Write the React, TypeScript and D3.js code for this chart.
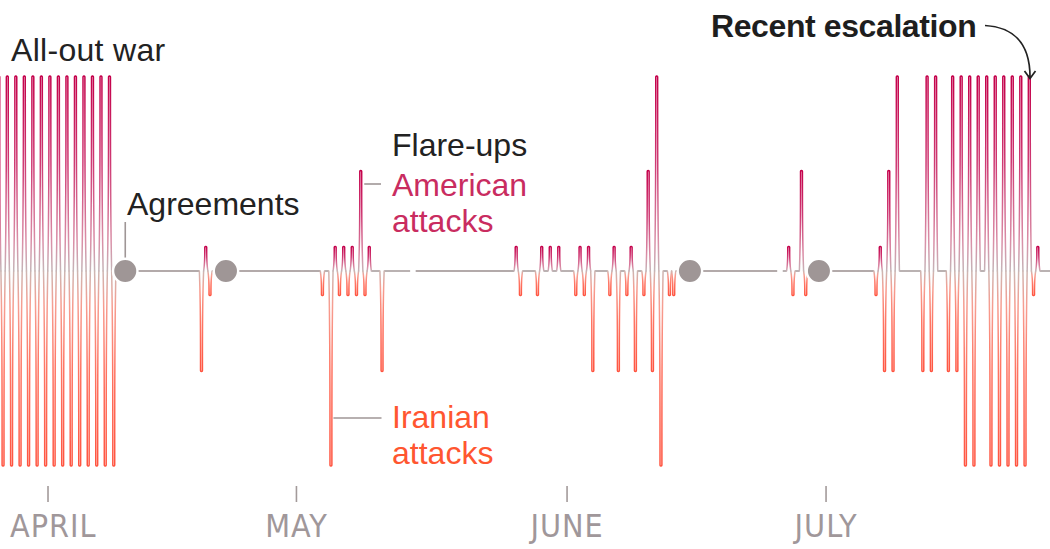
import React from 'react';
import * as d3 from 'd3';

// ---------- DATA (unit: half-day slots; one attack pulse per slot) ----------
// level: +n = American attacks (up), -n = Iranian attacks (down), 0 = quiet
const warStart = -3;
const warLevels = [-3, 3, -3, 3, -3, 3, -3, 3, -3, 3, -3, 3, -3, 3, -3, 3, -3, 3, -3, 3, -3, 3, -3, 3, -3, 3, -3, 3, -3];

const aprilFlareStart = 45.6;
const aprilFlareLevels = [-2, 1, -1];

const mayFlareStart = 74;
const mayFlareLevels = [-1, 0, -3, 1, -1, 1, -1, 1, -1, 2, -1, 1, 0, 0, -2];

const juneFlareStart = 119.5;
const juneFlareLevels = [1, -1, 0, 0, 0, -1, 1, 0, 1, 0, 1, 0, 0, 0, -1, 1, -1, 1, -2, 0, 0, 0, -1, 1, -2, 0, -1, 1, -2, 0, -1, 2, -2, 3, -3, 0, -1, -1];

const julyFlareStart = 183.5;
const julyFlareLevels = [1, -1, 0, 2, -1];

const escalationStart = 204;
const escalationLevels = [-1, 1, -2, 2, -2, 3, 0, 0, 0, 0, 0, -2, 3, -2, 3, 0, 0, -2, 3, -2, 3, -3, 3, -3, 3, 0, 3, -3, 3, -3, 3, -3, 3, -3, 3, -3, 3, -1, 1];

const agreementSlots = [27.7, 51.35, 160.3, 190.6];
const noDataGaps: [number, number][] = [[94.6, 95.9], [180.8, 182.1]];

const monthTicks = ['APRIL', 'MAY', 'JUNE', 'JULY'];
const monthTickSlots = [9.56, 67.9, 131.45, 192.27];

const levelDomain = [0, 1, 2, 3];

// ---------- LAYOUT ----------
const W = 1050;
const H = 549;
const BASE_Y = 271;
const FONT = "'Liberation Sans', Arial, Helvetica, sans-serif";
const NARROW = "'Liberation Sans Narrow', 'Arial Narrow', 'DejaVu Sans Condensed', sans-serif";
const GRAY_LINE = '#b3aaaa';
const DOT = '#9f9696';

type Pulse = { slot: number; level: number };

function expand(start: number, levels: number[]): Pulse[] {
  return levels.map((level, i) => ({ slot: start + i, level }));
}

export default function App() {
  const x = d3.scaleLinear().domain([0, 240]).range([7.3, 1029.3]);
  const amp = d3.scaleLinear().domain(levelDomain).range([0, 24.5, 100.5, 195]);

  const pulses: Pulse[] = [
    ...expand(warStart, warLevels),
    ...expand(aprilFlareStart, aprilFlareLevels),
    ...expand(mayFlareStart, mayFlareLevels),
    ...expand(juneFlareStart, juneFlareLevels),
    ...expand(julyFlareStart, julyFlareLevels),
    ...expand(escalationStart, escalationLevels),
  ].filter((p) => p.level !== 0);

  const line = d3.line<[number, number]>();
  const N = 48;
  const SIDE = 0.95; // half-gap between the two sides of a pulse loop near its tip
  const TAPER = 3.2; // how the loop narrows away from the baseline
  const pulsePath = (p: Pulse) => {
    const c = x(p.slot);
    const half = (x(p.slot + 0.5) - x(p.slot - 0.5)) / 2;
    const A = amp(Math.abs(p.level));
    const sgn = p.level > 0 ? -1 : 1;
    const r = Math.min(SIDE, A / 2);
    const hw = (d: number) => {
      let w = r + (half - r) * Math.pow(Math.max(0, 1 - d / A), TAPER);
      const capStart = A - r;
      if (d > capStart) {
        const k = (d - capStart) / r;
        w = Math.min(w, r * Math.sqrt(Math.max(0, 1 - k * k)));
      }
      return w;
    };
    const ds = d3.range(N + 1).map((i) => (A * (1 - Math.cos((Math.PI * i) / N))) / 2);
    const left: [number, number][] = ds.map((d) => [c - hw(d), BASE_Y + sgn * d]);
    const right: [number, number][] = ds
      .slice()
      .reverse()
      .map((d) => [c + hw(d), BASE_Y + sgn * d]);
    return line([...left, ...right.slice(1)]) as string;
  };

  // baseline = full extent minus pulse intervals minus no-data gaps
  const blocked: [number, number][] = [
    ...pulses.map((p) => [p.slot - 0.5, p.slot + 0.5] as [number, number]),
    ...noDataGaps,
  ].sort((a, b) => a[0] - b[0]);
  const fullStart = x.invert(-5);
  const fullEnd = x.invert(W + 5);
  const baseSegs: [number, number][] = [];
  let cursor = fullStart;
  for (const [b0, b1] of blocked) {
    if (b0 > cursor + 1e-6) baseSegs.push([cursor, b0]);
    cursor = Math.max(cursor, b1);
  }
  if (cursor < fullEnd) baseSegs.push([cursor, fullEnd]);

  const americanLeaderX = x(83) + 3.5;
  const iranianLeaderX = x(76) + 2.5;
  const firstDotX = x(agreementSlots[0]);

  return (
    <svg
      width={W}
      height={H}
      viewBox={`0 0 ${W} ${H}`}
      style={{ position: 'absolute', left: 0, top: 0, display: 'block', background: '#fff' }}
    >
      <defs>
        <linearGradient id="upGrad" x1="0" y1="0" x2="0" y2="1">
          <stop offset="0" stopColor="#c4004a" />
          <stop offset="0.45" stopColor="#cf3a74" />
          <stop offset="0.85" stopColor="#d98fa7" />
          <stop offset="1" stopColor="#c4b4b7" />
        </linearGradient>
        <linearGradient id="downGrad" x1="0" y1="0" x2="0" y2="1">
          <stop offset="0" stopColor="#cdb6b2" />
          <stop offset="0.18" stopColor="#f79d90" />
          <stop offset="0.5" stopColor="#ff7563" />
          <stop offset="1" stopColor="#ff5440" />
        </linearGradient>
      </defs>

      {/* baseline */}
      {baseSegs.map(([a, b], i) => (
        <line key={`b${i}`} x1={x(a)} x2={x(b)} y1={BASE_Y} y2={BASE_Y} stroke={GRAY_LINE} strokeWidth={1.8} />
      ))}

      {/* pulses */}
      {pulses.map((p, i) => (
        <path
          key={`p${i}`}
          d={pulsePath(p)}
          fill="none"
          stroke={p.level > 0 ? 'url(#upGrad)' : 'url(#downGrad)'}
          strokeWidth={1.5}
          strokeLinejoin="round"
          strokeLinecap="round"
        />
      ))}

      {/* leaders */}
      <line x1={firstDotX} x2={firstDotX} y1={222} y2={258} stroke={DOT} strokeWidth={1.6} />
      <line x1={americanLeaderX} x2={381} y1={184} y2={184} stroke={DOT} strokeWidth={1.6} />
      <line x1={iranianLeaderX} x2={381.5} y1={418} y2={418} stroke={DOT} strokeWidth={1.6} />

      {/* agreements */}
      {agreementSlots.map((s, i) => (
        <circle key={`c${i}`} cx={x(s)} cy={BASE_Y} r={12.2} fill={DOT} stroke="#fff" strokeWidth={2.4} />
      ))}

      {/* annotations */}
      <g fontFamily={FONT} fontSize={32}>
        <text x={11} y={61} fill="#222" letterSpacing={0.3}>All-out war</text>
        <text x={127} y={214.5} fill="#222">Agreements</text>
        <text x={392} y={156} fill="#222">Flare-ups</text>
        <text x={392} y={196} fill="#c92c60">American</text>
        <text x={392} y={232} fill="#c92c60">attacks</text>
        <text x={392} y={428} fill="#ff5630">Iranian</text>
        <text x={392} y={464} fill="#ff5630">attacks</text>
        <text x={711} y={36.5} fill="#1e1e1e" fontWeight="bold" letterSpacing={-0.4}>Recent escalation</text>
      </g>

      {/* escalation arrow */}
      <path d="M985,25.5 C1012,27 1030,42 1030,77" fill="none" stroke="#222" strokeWidth={1.7} />
      <path d="M1024.5,71 L1030,78.5 L1035.5,71" fill="none" stroke="#222" strokeWidth={1.7} strokeLinejoin="miter" />

      {/* month axis */}
      {monthTicks.map((label, i) => {
        const tx = x(monthTickSlots[i]);
        const first = i === 0;
        return (
          <g key={label}>
            <line x1={tx} x2={tx} y1={486} y2={502} stroke="#a39a9a" strokeWidth={1.6} />
            <text
              x={first ? 10 : tx}
              y={537}
              textAnchor={first ? 'start' : 'middle'}
              fontFamily={NARROW}
              fontSize={32}
              letterSpacing={1}
              fill="#a0979a"
            >
              {label}
            </text>
          </g>
        );
      })}
    </svg>
  );
}
